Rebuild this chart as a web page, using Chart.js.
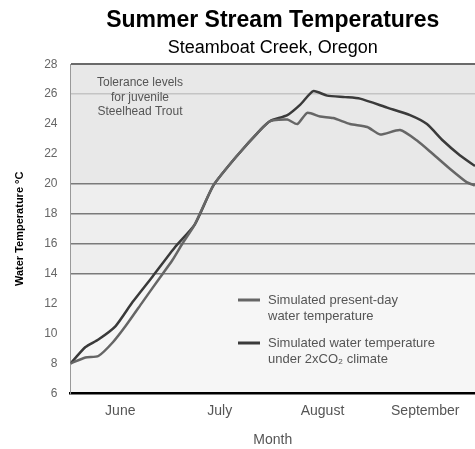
<!DOCTYPE html>
<html>
<head>
<meta charset="utf-8">
<title>Summer Stream Temperatures</title>
<script src="https://cdn.jsdelivr.net/npm/chart.js@4.4.1/dist/chart.umd.min.js"></script>
<style>
  html, body { margin: 0; padding: 0; background: #fff; overflow: hidden; }
  canvas { display: block; }
</style>
</head>
<body>
<canvas id="stream-chart" width="475" height="449"></canvas>
<script>
// days are counted from June 1
const presentDays = [0, 4.5, 8.4, 12.7, 16.6, 21.7, 26.5, 30.7, 33.7, 37.5, 43.1, 50.3, 57.2, 60.2, 65.4, 68.4, 71.4, 75.3, 79.2, 84.3, 89.5, 93.4, 99.4, 104.5, 109.3, 114.5, 119.6, 122];
const presentTemps = [8.0, 8.4, 8.5, 9.4, 10.5, 12.1, 13.6, 14.9, 16.0, 17.3, 19.9, 21.9, 23.6, 24.2, 24.3, 24.0, 24.75, 24.5, 24.4, 24.0, 23.8, 23.3, 23.6, 22.9, 22.0, 21.0, 20.1, 19.9];

const co2Days = [0, 4.5, 8.4, 13.6, 18.7, 24.7, 31.6, 37.5, 43.1, 50.3, 57.2, 60.2, 65.4, 69.3, 73.2, 77.4, 82.8, 87.3, 95.5, 102.4, 107.5, 112.3, 117.5, 122];
const co2Temps = [8.0, 9.1, 9.6, 10.5, 12.1, 13.8, 15.8, 17.3, 19.9, 21.9, 23.6, 24.2, 24.6, 25.3, 26.2, 25.9, 25.8, 25.7, 25.1, 24.6, 24.0, 22.9, 21.9, 21.2];

const monthDays = [15, 45, 76, 107];
const monthLabels = ['June', 'July', 'August', 'September'];

const tempMin = 6;
const tempMax = 28;
const tempStep = 2;
const toleranceTemps = [14, 16, 18, 20];
const toleranceNote = ['Tolerance levels', 'for juvenile', 'Steelhead Trout'];

(function () {
  'use strict';

  function points(days, temps) {
    return days.map(function (d, i) { return { x: d, y: temps[i] }; });
  }

  // shaded plot background, darker above the tolerance band
  const plotShading = {
    id: 'plotShading',
    beforeDraw: function (chart) {
      const c = chart.ctx;
      const a = chart.chartArea;
      const y = chart.scales.y;
      const y14 = y.getPixelForValue(14);
      const y20 = y.getPixelForValue(20);
      c.save();
      c.fillStyle = '#f6f6f6';
      c.fillRect(a.left, y14, a.right - a.left, a.bottom - y14);
      c.fillStyle = '#eeeeee';
      c.fillRect(a.left, y20, a.right - a.left, y14 - y20);
      c.fillStyle = '#e8e8e8';
      c.fillRect(a.left, a.top, a.right - a.left, y20 - a.top);
      c.restore();
    }
  };

  // tolerance note and the in-plot legend
  const notes = {
    id: 'notes',
    afterDatasetsDraw: function (chart) {
      const c = chart.ctx;
      c.save();
      c.font = '12px "Liberation Sans", Arial, sans-serif';
      c.fillStyle = '#555';
      c.textAlign = 'center';
      c.textBaseline = 'middle';
      toleranceNote.forEach(function (line, i) {
        c.fillText(line, 140, 83 + i * 14.5);
      });

      c.font = '13px "Liberation Sans", Arial, sans-serif';
      c.textAlign = 'left';
      const rows = [300, 343];
      chart.data.datasets.forEach(function (ds, i) {
        const y0 = rows[i];
        c.strokeStyle = ds.borderColor;
        c.lineWidth = 3;
        c.beginPath();
        c.moveTo(238, y0);
        c.lineTo(260, y0);
        c.stroke();
        c.fillStyle = '#555';
        ds.label.forEach(function (line, j) {
          c.fillText(line, 268, y0 + j * 16);
        });
      });
      c.restore();
    }
  };

  const ctx = document.getElementById('stream-chart');

  new Chart(ctx, {
    type: 'line',
    data: {
      datasets: [
        {
          label: ['Simulated present-day', 'water temperature'],
          data: points(presentDays, presentTemps),
          borderColor: '#666',
          borderWidth: 2.5,
          pointRadius: 0,
          tension: 0.2
        },
        {
          label: ['Simulated water temperature', 'under 2xCO\u2082 climate'],
          data: points(co2Days, co2Temps),
          borderColor: '#3a3a3a',
          borderWidth: 2.5,
          pointRadius: 0,
          tension: 0.2
        }
      ]
    },
    options: {
      responsive: false,
      animation: false,
      events: [],
      layout: {
        padding: { left: 8, right: 0, top: 0, bottom: 0 }
      },
      scales: {
        x: {
          type: 'linear',
          min: 0,
          max: 122,
          afterBuildTicks: function (scale) {
            scale.ticks = monthDays.map(function (d) { return { value: d }; });
          },
          ticks: {
            autoSkip: false,
            maxRotation: 0,
            padding: 9,
            color: '#555',
            font: { family: '"Liberation Sans", Arial, sans-serif', size: 14 },
            callback: function (value) {
              return monthLabels[monthDays.indexOf(value)];
            }
          },
          grid: { display: false, drawTicks: false },
          border: { display: true, color: '#000', width: 2.5 },
          title: {
            display: true,
            text: 'Month',
            color: '#555',
            font: { family: '"Liberation Sans", Arial, sans-serif', size: 14 },
            padding: { top: 4, bottom: 0 }
          }
        },
        y: {
          min: tempMin,
          max: tempMax,
          ticks: {
            stepSize: tempStep,
            padding: 13,
            color: '#666',
            font: { family: '"Liberation Sans", Arial, sans-serif', size: 12 }
          },
          grid: {
            drawTicks: false,
            color: function (c) {
              const v = c.tick.value;
              if (toleranceTemps.indexOf(v) >= 0) return '#7a7a7a';
              if (v === tempMax) return '#6a6a6a';
              if (v === 26) return '#c4c4c4';
              return 'rgba(0,0,0,0)';
            },
            lineWidth: function (c) {
              return c.tick.value === tempMax ? 2 : 1.5;
            }
          },
          border: { display: true, color: '#999', width: 1 },
          title: {
            display: true,
            text: 'Water Temperature \u00b0C',
            color: '#000',
            font: { family: '"Liberation Sans", Arial, sans-serif', size: 11, weight: 'bold' },
            padding: { top: 5, bottom: 5 }
          }
        }
      },
      plugins: {
        legend: { display: false },
        tooltip: { enabled: false },
        title: {
          display: true,
          fullSize: false,
          text: 'Summer Stream Temperatures',
          color: '#000',
          font: { family: '"Liberation Sans", Arial, sans-serif', size: 23, weight: 'bold' },
          padding: { top: 7, bottom: 2 }
        },
        subtitle: {
          display: true,
          fullSize: false,
          text: 'Steamboat Creek, Oregon',
          color: '#000',
          font: { family: '"Liberation Sans", Arial, sans-serif', size: 18 },
          padding: { top: 1, bottom: 5 }
        }
      }
    },
    plugins: [plotShading, notes]
  });
})();
</script>
</body>
</html>
